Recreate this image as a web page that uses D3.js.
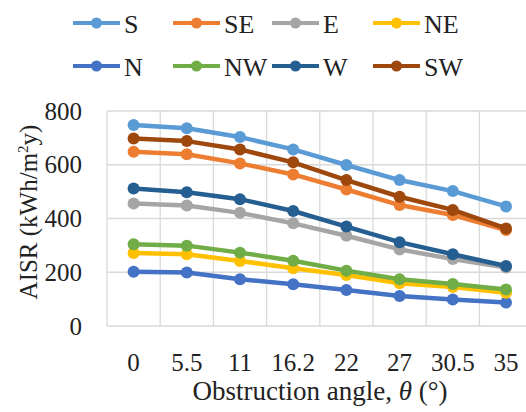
<!DOCTYPE html>
<html lang="en">
<head>
    <meta charset="UTF-8">
    <title>AISR vs obstruction angle</title>
    <script src="https://d3js.org/d3.v7.min.js" charset="utf-8"></script>
    <style>
        body { margin: 0; background: #fff; }
    </style>
</head>
<body>
<script>
    // obstruction angles (categories on x)
    let angles = ['0', '5.5', '11', '16.2', '22', '27', '30.5', '35'];
    let yTicks = [0, 200, 400, 600, 800];

    // AISR values per orientation
    let S  = [748, 736, 703, 657, 599, 543, 502, 445];
    let SE = [648, 639, 605, 564, 508, 450, 413, 357];
    let E  = [456, 448, 421, 382, 336, 285, 249, 218];
    let NE = [272, 267, 242, 215, 190, 159, 145, 124];
    let N  = [202, 199, 174, 155, 134, 112, 99, 87];
    let NW = [304, 299, 273, 243, 206, 174, 156, 136];
    let W  = [512, 498, 472, 428, 370, 312, 267, 223];
    let SW = [698, 688, 657, 609, 543, 481, 432, 363];

    let seriesNames = ['S', 'SE', 'E', 'NE', 'N', 'NW', 'W', 'SW'];
    let seriesValues = [S, SE, E, NE, N, NW, W, SW];
    let colors = ['#5b9bd5', '#ed7d31', '#a5a5a5', '#ffc000', '#4472c4', '#70ad47', '#255e91', '#9e480e'];
    // draw order so that the top lines overlap like the original
    let drawOrder = ['N', 'NE', 'NW', 'E', 'W', 'SE', 'SW', 'S'];

    let serif = "'Liberation Serif'";

    let svg = d3.select('body').append('svg').attr('width', 526).attr('height', 412);

    let x = d3.scaleBand().domain(angles).range([107, 532.6]).padding(0);
    let y = d3.scaleLinear().domain([0, 800]).range([326, 111]);

    // gridlines
    svg.append('g').selectAll('line')
        .data(yTicks).enter()
        .append('line')
        .attr('x1', 107).attr('x2', 533)
        .attr('y1', function (d) { return y(d); })
        .attr('y2', function (d) { return y(d); })
        .attr('stroke', '#d9d9d9').attr('stroke-width', 1.3);
    svg.append('g').selectAll('line')
        .data(angles).enter()
        .append('line')
        .attr('x1', function (d) { return x(d); })
        .attr('x2', function (d) { return x(d); })
        .attr('y1', y(0)).attr('y2', y(800))
        .attr('stroke', '#d9d9d9').attr('stroke-width', 1.3);

    // y axis labels
    let yAxis = d3.axisLeft(y).tickValues(yTicks).tickSize(0).tickPadding(25);
    let gy = svg.append('g').attr('transform', 'translate(107,0)').call(yAxis);
    gy.attr('font-family', null).attr('font-size', null);
    gy.select('.domain').remove();
    gy.selectAll('text')
        .style('font-family', serif).style('font-size', '25px').attr('fill', '#222');

    // x axis labels
    let xAxis = d3.axisBottom(x).tickSize(0).tickPadding(27);
    let gx = svg.append('g').attr('transform', 'translate(0,' + y(0) + ')').call(xAxis);
    gx.attr('font-family', null).attr('font-size', null);
    gx.select('.domain').remove();
    gx.selectAll('text')
        .style('font-family', serif).style('font-size', '25px').attr('fill', '#222');

    // axis titles
    let xt = svg.append('text').attr('x', 320).attr('y', 400)
        .attr('text-anchor', 'middle')
        .style('font-family', serif).style('font-size', '27px').attr('fill', '#222');
    xt.append('tspan').text('Obstruction angle, ');
    xt.append('tspan').style('font-style', 'italic').text('θ');
    xt.append('tspan').text(' (°)');

    let yt = svg.append('text')
        .attr('transform', 'translate(37,212) rotate(-90)')
        .attr('text-anchor', 'middle')
        .style('font-family', serif).style('font-size', '25px').attr('fill', '#222');
    yt.append('tspan').text('AISR (kWh/m');
    yt.append('tspan').attr('dy', -9).style('font-size', '15px').text('2');
    yt.append('tspan').attr('dy', 9).text('y)');

    // lines and markers
    let line = d3.line()
        .x(function (d, i) { return x(angles[i]) + x.bandwidth() / 2; })
        .y(function (d) { return y(d); });

    drawOrder.forEach(function (name) {
        let k = seriesNames.indexOf(name);
        let g = svg.append('g');
        g.append('path')
            .datum(seriesValues[k])
            .attr('d', line)
            .attr('fill', 'none')
            .attr('stroke', colors[k])
            .attr('stroke-width', 4.5)
            .attr('stroke-linejoin', 'round');
        g.selectAll('circle')
            .data(seriesValues[k]).enter()
            .append('circle')
            .attr('cx', function (d, i) { return x(angles[i]) + x.bandwidth() / 2; })
            .attr('cy', function (d) { return y(d); })
            .attr('r', 6)
            .attr('fill', colors[k]);
    });

    // legend
    let legX = [73, 173, 272, 373];
    let legY = [23, 66];
    let legend = svg.append('g').selectAll('g')
        .data(seriesNames).enter()
        .append('g')
        .attr('transform', function (d, i) {
            return 'translate(' + legX[i % 4] + ',' + legY[Math.floor(i / 4)] + ')';
        });
    legend.append('line')
        .attr('x1', 0).attr('x2', 47).attr('y1', 0).attr('y2', 0)
        .attr('stroke', function (d, i) { return colors[i]; })
        .attr('stroke-width', 4);
    legend.append('circle')
        .attr('cx', 23.5).attr('cy', 0).attr('r', 5.5)
        .attr('fill', function (d, i) { return colors[i]; });
    legend.append('text')
        .attr('x', 51).attr('y', 9.5)
        .style('font-family', serif).style('font-size', '26px').attr('fill', '#222')
        .text(function (d) { return d; });
</script>
</body>
</html>
